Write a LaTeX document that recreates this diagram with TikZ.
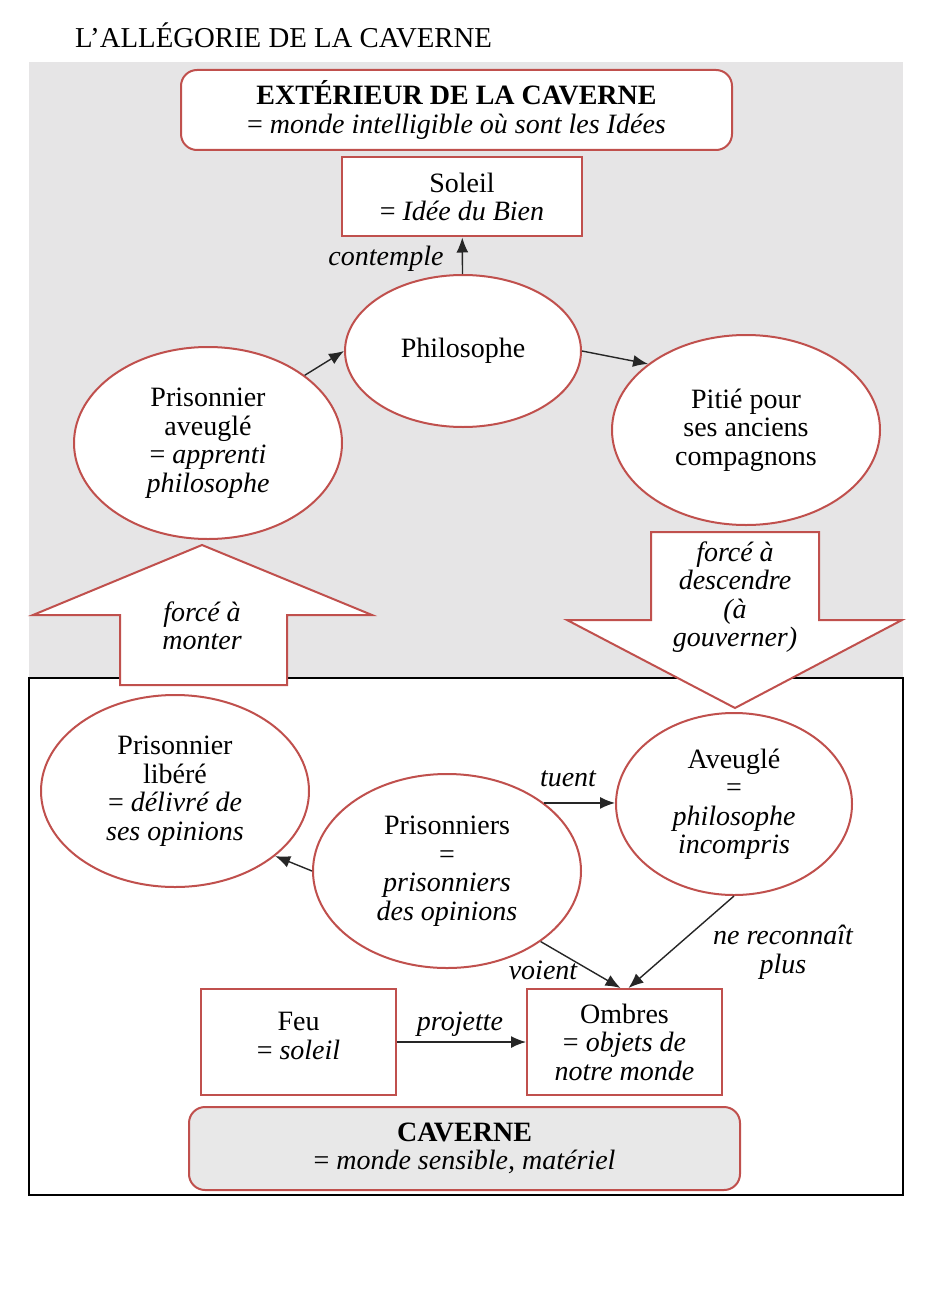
\documentclass[tikz,border=0pt]{standalone}
\usepackage{fontspec}
\setmainfont{Liberation Serif}
\usetikzlibrary{shapes.geometric,arrows.meta}
\definecolor{cavered}{RGB}{192,80,77}
\definecolor{outside}{RGB}{230,229,230}
\definecolor{cavefill}{RGB}{232,232,232}
\begin{document}
\begin{tikzpicture}[x=1pt,y=-1pt,
  font=\fontsize{28}{28.5}\selectfont,
  every node/.style={inner sep=0pt, align=center},
  bubble/.style={ellipse, draw=cavered, line width=2pt, fill=white},
  card/.style={rectangle, draw=cavered, line width=2pt, fill=white},
  panel/.style={rectangle, rounded corners=16pt, draw=cavered, line width=2pt},
  bigarrow/.style={draw=cavered, line width=2pt, fill=white, line join=miter},
  link/.style={draw=black!85, line width=1.4pt, -{Latex[length=15pt,width=12pt]}},
  tag/.style={font=\fontsize{28}{28.5}\selectfont\itshape}
]
\useasboundingbox (0,0) rectangle (936,1297);

% title
\node[anchor=base west, font=\fontsize{28.8}{30}\selectfont] (title) at (75,48) {L’ALLÉGORIE DE LA CAVERNE};

% outside world and cave
\fill[outside] (29,62) rectangle (903,678);
\draw[black, line width=1.5pt, fill=white] (29,678) rectangle (903,1195);

% outside of the cave
\node[panel, fill=white, minimum width=551pt, minimum height=80pt] (exterieur) at (456.5,110)
  {\textbf{EXTÉRIEUR DE LA CAVERNE}\\= \textit{monde intelligible où sont les Idées}};
\node[card, minimum width=240pt, minimum height=79pt] (soleil) at (462,197)
  {Soleil\\= \textit{Idée du Bien}};
\node[bubble, minimum width=236pt, minimum height=152pt] (philo) at (463,351) {Philosophe};
\node[bubble, minimum width=268pt, minimum height=192pt] (aveugle) at (208,443)
  {Prisonnier\\aveuglé\\= \textit{apprenti}\\\textit{philosophe}};
\node[bubble, minimum width=268pt, minimum height=190pt] (pitie) at (746,430)
  {Pitié pour\\ses anciens\\compagnons};

% inside the cave
\node[bubble, minimum width=268pt, minimum height=192pt] (libere) at (175,791)
  {Prisonnier\\libéré\\= \textit{délivré de}\\\textit{ses opinions}};
\node[bubble, minimum width=268pt, minimum height=194pt] (prisonniers) at (447,871)
  {Prisonniers\\=\\\textit{prisonniers}\\\textit{des opinions}};
\node[bubble, minimum width=236pt, minimum height=182pt] (incompris) at (734,804)
  {Aveuglé\\=\\\textit{philosophe}\\\textit{incompris}};
\node[card, minimum width=195pt, minimum height=106pt,
  label={[yshift=6pt]center:{Feu\\= \textit{soleil}}}] (feu) at (298.5,1042) {};
\node[card, minimum width=195pt, minimum height=106pt] (ombres) at (624.5,1042)
  {Ombres\\= \textit{objets de}\\\textit{notre monde}};
\node[panel, fill=cavefill, minimum width=551pt, minimum height=83pt] (caverne) at (464.5,1148.5)
  {\textbf{CAVERNE}\\= \textit{monde sensible, matériel}};

% big arrows between the two worlds
\draw[bigarrow] (120,685) -- (120,615) -- (33,615) -- (202,545) -- (372,615)
  -- (287,615) -- (287,685) -- cycle;
\node[tag] (monter) at (202,626) {forcé à\\monter};
\draw[bigarrow] (651,532) -- (819,532) -- (819,620) -- (902,620) -- (735,708)
  -- (567,620) -- (651,620) -- cycle;
\node[tag] (descendre) at (735,597) {forcé à\\descendre\\(à\\gouverner)};

% connectors
\draw[link] (philo) -- (soleil);
\node[tag] (contemple) at (386,259) {contemple};
\draw[link] (aveugle.35) -- (philo.west);
\draw[link] (philo.east) -- (pitie.146);
\draw[link] (prisonniers.west) -- (libere.-33);
\draw[link] (prisonniers.35) -- (prisonniers.35 -| incompris.west);
\node[tag] (tuent) at (568,779) {tuent};
\draw[link] (prisonniers.-37) -- ([xshift=-4pt]ombres.north);
\node[tag] (voient) at (543,970) {voient};
\draw[link] (incompris.south) -- ([xshift=4pt]ombres.north);
\node[tag] (reconnait) at (783,952) {ne reconnaît\\plus};
\draw[link] (feu.east) -- (ombres.west);
\node[tag] (projette) at (460,1024) {projette};
\end{tikzpicture}
\end{document}
